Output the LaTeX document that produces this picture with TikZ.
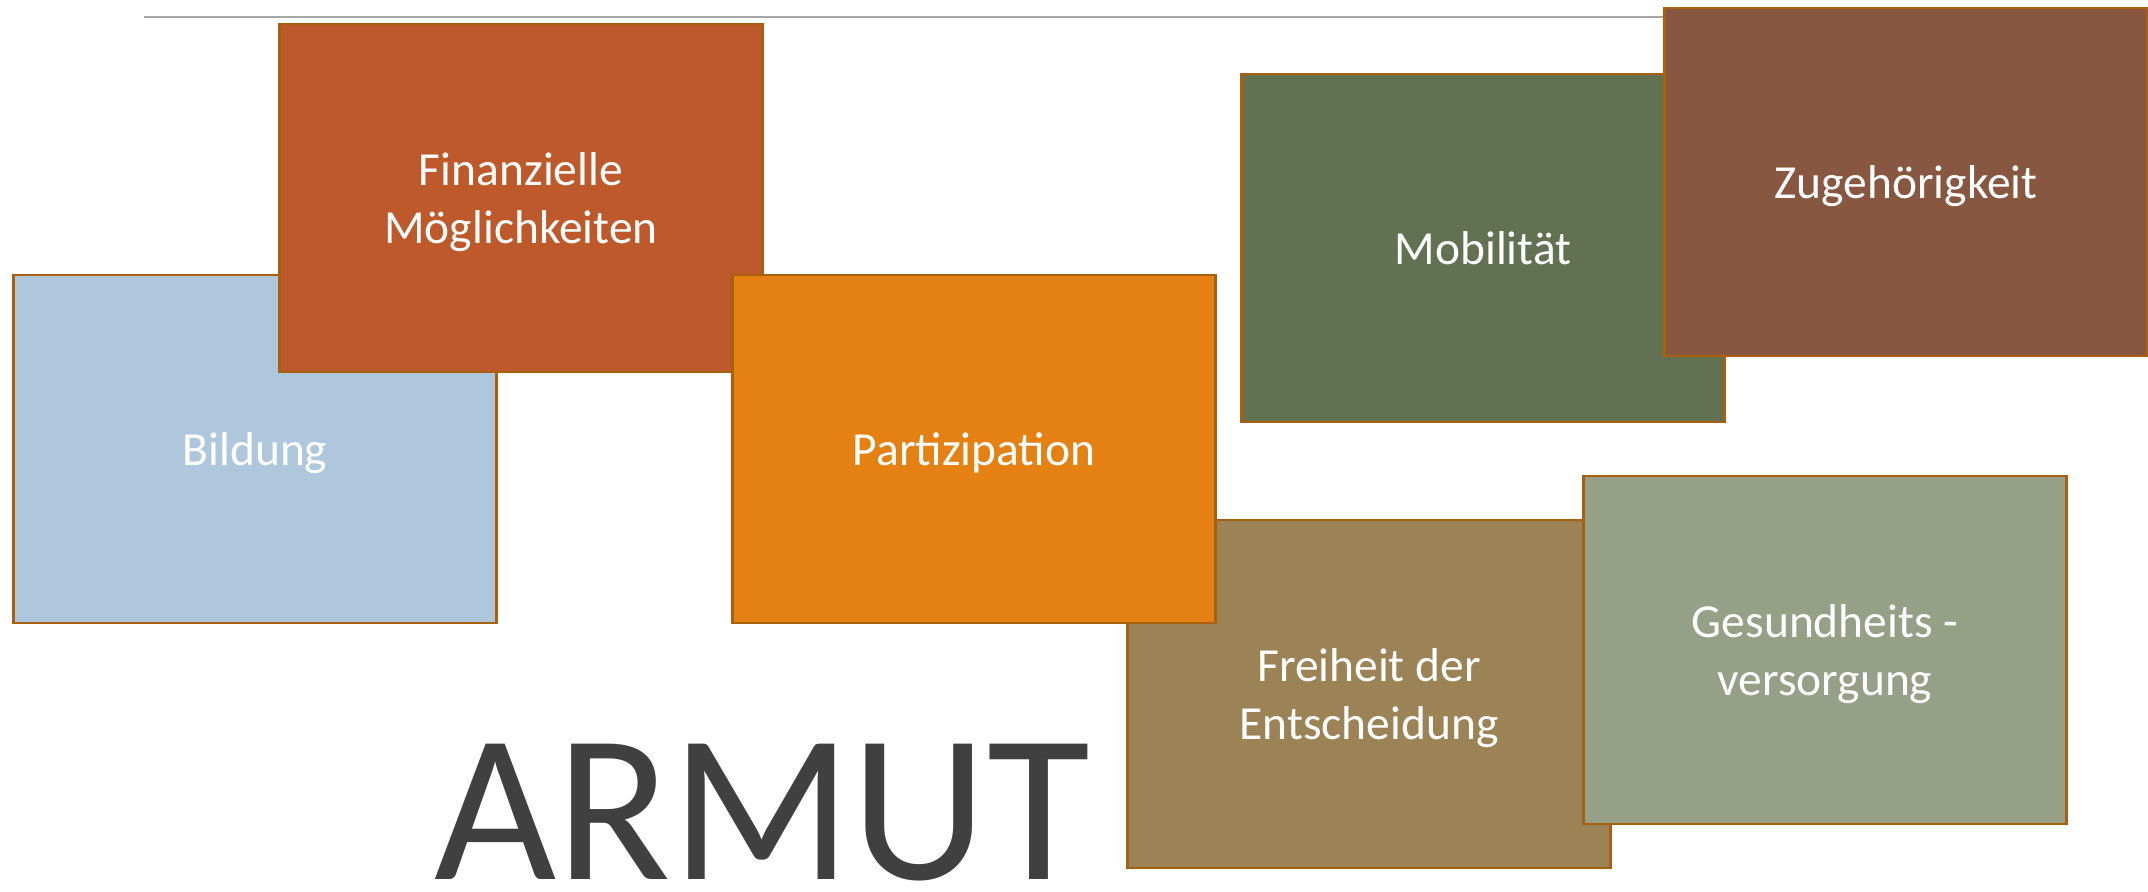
\documentclass[tikz,border=0pt]{standalone}
\usepackage[dvipsnames]{xcolor}
\usepackage{fontspec}
\setmainfont{Carlito}
\usepackage{tikz}

\definecolor{tileborder}{HTML}{A8600E}
\definecolor{topline}{HTML}{A6A6A6}
\definecolor{armutgray}{HTML}{404040}
\definecolor{bildungblue}{HTML}{AEC7DC}
\definecolor{finanzrust}{HTML}{BE592B}
\definecolor{partiorange}{HTML}{E48112}
\definecolor{freiheitbrown}{HTML}{9C8356}
\definecolor{gesundsage}{HTML}{95A087}
\definecolor{mobiolive}{HTML}{637153}
\definecolor{zugehoerbrown}{HTML}{875741}

\begin{document}
\begin{tikzpicture}[x=0.01cm, y=-0.01cm,
	tile/.style={draw=tileborder, line width=0.77pt, minimum width=4.83cm, minimum height=3.48cm, inner sep=0pt, text depth=0pt, text=white, align=center, font=\fontsize{13.5pt}{16.5pt}\selectfont}]

	\useasboundingbox (0,0) rectangle (2148,892);

	\draw[line width=0.6pt, topline] (144,17) -- (2148,17);

	% left group
	\node[tile, fill=bildungblue] (bildung) at (255,449) {Bildung};
	\node[tile, fill=finanzrust] (finanz) at (521,198) {Finanzielle\\Möglichkeiten};
	\node[tile, fill=freiheitbrown] (freiheit) at (1369,694) {Freiheit der\\Entscheidung};
	\node[tile, fill=partiorange] (parti) at (974,449) {Partizipation};
	\node[tile, fill=gesundsage] (gesund) at (1825,650) {Gesundheits -\\versorgung};

	% right group
	\node[tile, fill=mobiolive] (mobi) at (1483,248) {Mobilität};
	\node[tile, fill=zugehoerbrown] (zugehoer) at (1906,182) {Zugehörigkeit};

	\node[anchor=base west, inner sep=0pt, text=armutgray, font=\fontsize{60pt}{60pt}\selectfont] (armut) at (434,880) {ARMUT};

\end{tikzpicture}
\end{document}
